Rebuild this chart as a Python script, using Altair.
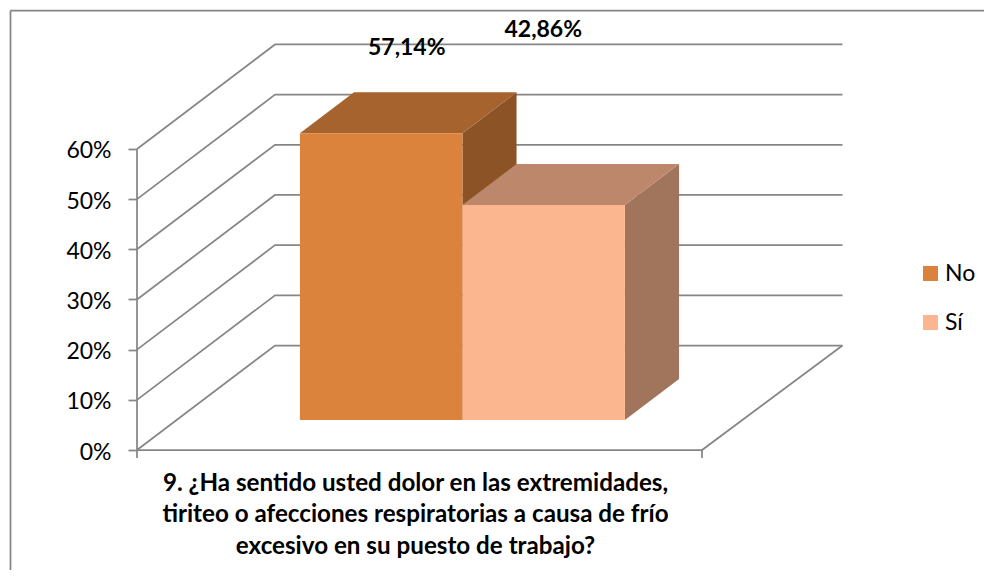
import altair as alt
import pandas as pd

# ---- chart values ----
categories = ["No", "Sí"]
values = [57.14, 42.86]
value_labels = ["57,14%", "42,86%"]
label_heights = [80.1, 83.7]
label_centres = [1.66, 2.50]
tick_values = [0, 10, 20, 30, 40, 50, 60]
front_colors = ["#DB823C", "#FCB68F"]
top_colors = ["#A6632D", "#BC876B"]
side_colors = ["#8C5426", "#A0755B"]
title_lines = [
    "9. ¿Ha sentido usted dolor en las extremidades,",
    "tiriteo o afecciones respiratorias a causa de frío",
    "excesivo en su puesto de trabajo?",
]

# ---- oblique projection of the 3D box ----
PX_PER_UNIT = 162.5
PX_PER_PCT = 5.017
DEPTH_X = 138 / PX_PER_UNIT
DEPTH_Y = 104.5 / PX_PER_PCT
FLOOR_W = 565 / PX_PER_UNIT
BACK_W = 567.5 / PX_PER_UNIT
BAR_START = 0.759
BAR_D0 = 0.287
BAR_D = 0.392
GRID = "#868686"
FONT = "Lato"
W, H = 976, 562


def px(c, d=0.0):
    return c + d * DEPTH_X


def py(v, d=0.0):
    return v + d * DEPTH_Y


x_scale = alt.Scale(domain=[(8 - 137) / PX_PER_UNIT, (8 + W - 137) / PX_PER_UNIT], nice=False, zero=False)
y_scale = alt.Scale(domain=[(450 - 8 - H) / PX_PER_PCT, (450 - 8) / PX_PER_PCT], nice=False, zero=False)
x_axis = alt.Axis(
    title=title_lines, domain=False, ticks=False, labels=False, grid=False,
    titleFont=FONT, titleFontSize=24.2, titleFontWeight="bold", titleColor="#000000",
    titleX=407, titleY=483 - 8 - H, titleAlign="center", titleAnchor="middle", titleLineHeight=31.5,
    titleBaseline="middle",
)
y_axis = alt.Axis(
    title=None, values=tick_values, labelExpr="datum.value + '%'", domain=False, grid=False,
    offset=-129, tickSize=9, tickColor=GRID, tickWidth=1.75, labelPadding=17, labelOffset=2,
    labelFont=FONT, labelFontSize=23, labelColor="#000000",
)
X = alt.X("x:Q", scale=x_scale, axis=x_axis)
Y = alt.Y("y:Q", scale=y_scale, axis=y_axis)

# wall and floor lines
wall_rows = []
for v in tick_values:
    wall_rows += [
        {"k": f"g{v}", "o": 0, "x": px(0), "y": py(v)},
        {"k": f"g{v}", "o": 1, "x": px(0, 1), "y": py(v, 1)},
        {"k": f"g{v}", "o": 2, "x": px(BACK_W, 1), "y": py(v, 1)},
    ]
wall_rows += [
    {"k": "floor", "o": 0, "x": px(0), "y": py(0)},
    {"k": "floor", "o": 1, "x": px(FLOOR_W), "y": py(0)},
    {"k": "floor", "o": 2, "x": px(BACK_W, 1), "y": py(0, 1)},
    {"k": "axis", "o": 0, "x": px(0), "y": -1.6},
    {"k": "axis", "o": 1, "x": px(0), "y": 60},
    {"k": "tick", "o": 0, "x": px(FLOOR_W), "y": -1.6},
    {"k": "tick", "o": 1, "x": px(FLOOR_W), "y": 0},
]
walls = alt.Chart(pd.DataFrame(wall_rows)).mark_line(color=GRID, strokeWidth=1.75).encode(
    x=X, y=Y, detail="k:N", order="o:Q"
)

layers = [walls]

for i, (cat, val) in enumerate(zip(categories, values)):
    c0, c1 = BAR_START + i, BAR_START + i + 1
    side = pd.DataFrame({
        "x": [px(c1, BAR_D0), px(c1, BAR_D0 + BAR_D)],
        "y": [py(val, BAR_D0), py(val, BAR_D0 + BAR_D)],
        "y0": [py(0, BAR_D0), py(0, BAR_D0 + BAR_D)],
    })
    top = pd.DataFrame({
        "x": [px(c0, BAR_D0), px(c0, BAR_D0 + BAR_D)],
        "x1": [px(c1, BAR_D0), px(c1, BAR_D0 + BAR_D)],
        "y": [py(val, BAR_D0), py(val, BAR_D0 + BAR_D)],
    })
    front = pd.DataFrame({
        "cat": [cat], "x": [px(c0, BAR_D0)], "x1": [px(c1, BAR_D0)],
        "y": [py(val, BAR_D0)], "y0": [py(0, BAR_D0)],
    })
    layers.append(alt.Chart(side).mark_area(color=side_colors[i], orient="vertical").encode(x=X, y=Y, y2="y0:Q"))
    layers.append(alt.Chart(top).mark_area(color=top_colors[i], orient="horizontal").encode(y=Y, x=X, x2="x1:Q"))
    layers.append(alt.Chart(front).mark_rect().encode(
        x=X, x2="x1:Q", y=Y, y2="y0:Q",
        color=alt.Color(
            "cat:N",
            scale=alt.Scale(domain=categories, range=front_colors),
            legend=alt.Legend(
                orient="none", legendX=911, legendY=254, title=None, symbolType="square",
                symbolSize=225, symbolStrokeWidth=0, symbolOpacity=1, labelFont=FONT, labelFontSize=23,
                labelColor="#000000", rowPadding=25, labelOffset=3, padding=0,
            ),
        ),
    ))

labels = alt.Chart(pd.DataFrame({"x": label_centres, "y": label_heights, "t": value_labels})).mark_text(
    font=FONT, fontSize=23, fontWeight="bold", color="#000000"
).encode(x=X, y=Y, text="t:N")
layers.append(labels)

# outer frame
layers.append(alt.Chart(pd.DataFrame({"a": [0]})).mark_rule(color=GRID, strokeWidth=1.75).encode(
    x=alt.value(2.5), x2=alt.value(W), y=alt.value(2.5)))
layers.append(alt.Chart(pd.DataFrame({"a": [0]})).mark_rule(color=GRID, strokeWidth=1.75).encode(
    x=alt.value(2.5), y=alt.value(2.5), y2=alt.value(H)))

chart = alt.layer(*layers).resolve_scale(color="shared").properties(
    width=W, height=H, padding=0, autosize=alt.AutoSizeParams(type="none")
).configure_view(stroke=None)

chart.save("out.html", embed_options={"renderer": "svg", "actions": False})
